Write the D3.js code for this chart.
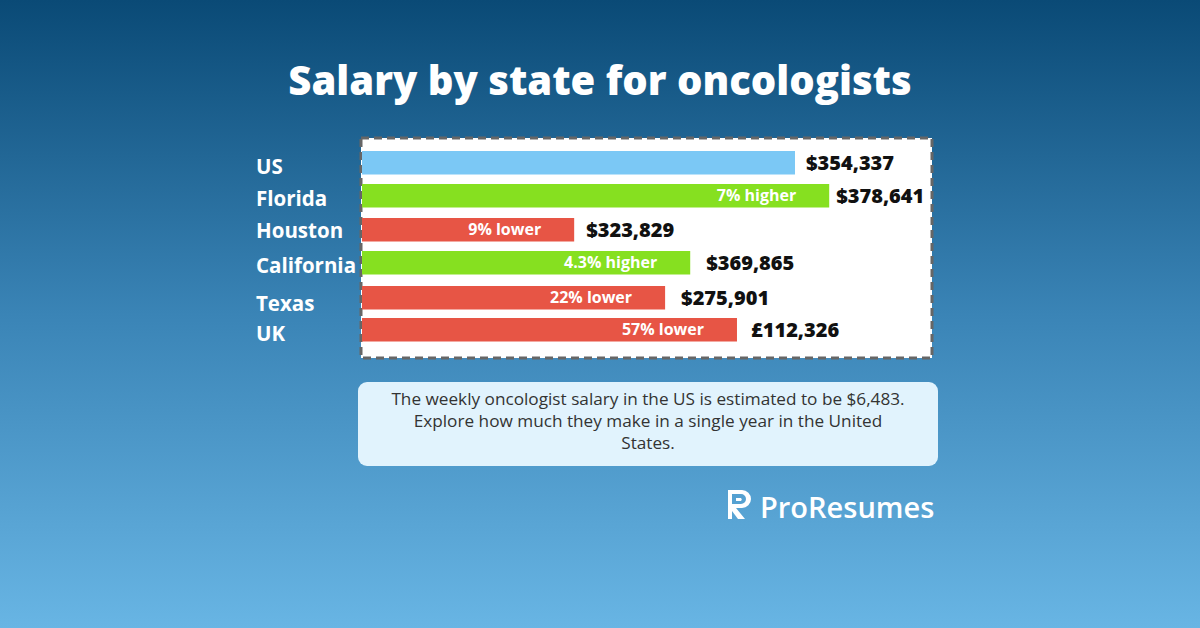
<!DOCTYPE html>
<html>
<head>
<meta charset="utf-8">
<script src="https://cdn.jsdelivr.net/npm/d3@7"></script>
<style>
  html, body { margin: 0; padding: 0; }
  body { width: 1200px; height: 628px; overflow: hidden; }
  svg { display: block; font-family: "Open Sans", "Noto Sans", sans-serif; }
</style>
</head>
<body>
<svg id="chart" width="1200" height="628"></svg>
<script>
const categories = ["US", "Florida", "Houston", "California", "Texas", "UK"];
// bar length as drawn, relative to the US bar (=100)
const barIndex = [100, 107.9, 49, 75.8, 70, 86.6];
const salaryLabels = ["$354,337", "$378,641", "$323,829", "$369,865", "$275,901", "£112,326"];
const diffLabels = ["", "7% higher", "9% lower", "4.3% higher", "22% lower", "57% lower"];
const barKinds = ["base", "up", "down", "up", "down", "down"];
const noteLines = [
  "The weekly oncologist salary in the US is estimated to be $6,483.",
  "Explore how much they make in a single year in the United",
  "States."
];

const W = 1200;
const H = 628;
const svg = d3.select("#chart");

const colors = { base: "#7bc8f5", up: "#86e020", down: "#e75545" };

// background
const defs = svg.append("defs");
const bg = defs.append("linearGradient").attr("id", "bg").attr("x1", 0).attr("x2", 0).attr("y1", 0).attr("y2", 1);
bg.append("stop").attr("offset", "0%").attr("stop-color", "#0a4a76");
bg.append("stop").attr("offset", "50%").attr("stop-color", "#3a84b6");
bg.append("stop").attr("offset", "100%").attr("stop-color", "#68b5e4");
svg.append("rect").attr("width", W).attr("height", H).attr("fill", "url(#bg)");

svg.append("text")
  .attr("x", 600).attr("y", 95)
  .attr("text-anchor", "middle")
  .attr("fill", "#fff")
  .attr("font-size", 40)
  .attr("font-weight", 800)
  .text("Salary by state for oncologists");

// chart panel
const panel = { x: 361, y: 138, w: 571, h: 220 };
svg.append("rect")
  .attr("x", panel.x).attr("y", panel.y)
  .attr("width", panel.w).attr("height", panel.h)
  .attr("fill", "#fff")
  .attr("stroke", "#666")
  .attr("stroke-width", 3)
  .attr("stroke-dasharray", "8 5");

const x = d3.scaleLinear().domain([0, 100]).range([0, 433]);
const barTop = [151, 184, 218, 251, 286, 318];
const labelShift = [4, 3, 1.5, 3.5, 6.5, 4.5];
const valueGap = [11, 7, 12, 16, 16, 14];
const y = d3.scaleOrdinal().domain(categories).range(barTop);
const barH = 23.5;
const x0 = panel.x + 1;

const rows = svg.append("g").selectAll("g")
  .data(categories)
  .join("g")
  .attr("transform", (d) => `translate(0,${y(d)})`);

rows.append("rect")
  .attr("x", x0)
  .attr("width", (d, i) => x(barIndex[i]))
  .attr("height", barH)
  .attr("fill", (d, i) => colors[barKinds[i]]);

rows.append("text")
  .attr("x", 256)
  .attr("y", (d, i) => barH / 2 + labelShift[i])
  .attr("dy", "0.35em")
  .attr("fill", "#fff")
  .attr("font-size", 20.5)
  .attr("font-weight", 700)
  .text((d) => d);

rows.append("text")
  .attr("x", (d, i) => x0 + x(barIndex[i]) - 33)
  .attr("y", barH / 2)
  .attr("dy", "0.35em")
  .attr("text-anchor", "end")
  .attr("fill", "#fff")
  .attr("font-size", 16)
  .attr("font-weight", 700)
  .text((d, i) => diffLabels[i]);

rows.append("text")
  .attr("x", (d, i) => x0 + x(barIndex[i]) + valueGap[i])
  .attr("y", barH / 2)
  .attr("dy", "0.35em")
  .attr("fill", "#111")
  .attr("font-size", 20)
  .attr("font-weight", 800)
  .text((d, i) => salaryLabels[i]);

// note box
svg.append("rect")
  .attr("x", 358).attr("y", 382)
  .attr("width", 580).attr("height", 84)
  .attr("rx", 9)
  .attr("fill", "#e1f3fd");

svg.append("g").selectAll("text")
  .data(noteLines)
  .join("text")
  .attr("x", 648)
  .attr("y", (d, i) => 405 + i * 22)
  .attr("text-anchor", "middle")
  .attr("fill", "#333")
  .attr("font-size", 17.2)
  .text((d) => d);

// logo
const logo = svg.append("g").attr("transform", "translate(728,490)");
logo.append("path")
  .attr("d", "M0,0 H14 A9,9 0 0 1 14,18 H8 L17,29 H10 L4,21 V29 H0 Z M4,4 V14 H13 A5,5 0 0 0 13,4 Z")
  .attr("fill", "#fff");
logo.append("path")
  .attr("d", "M8,8 H13 A2,2 0 0 1 13,11 H8 Z")
  .attr("fill", "#fff");
svg.append("text")
  .attr("x", 760).attr("y", 518)
  .attr("fill", "#fff")
  .attr("font-size", 29)
  .attr("font-weight", 600)
  .text("ProResumes");
</script>
</body>
</html>
